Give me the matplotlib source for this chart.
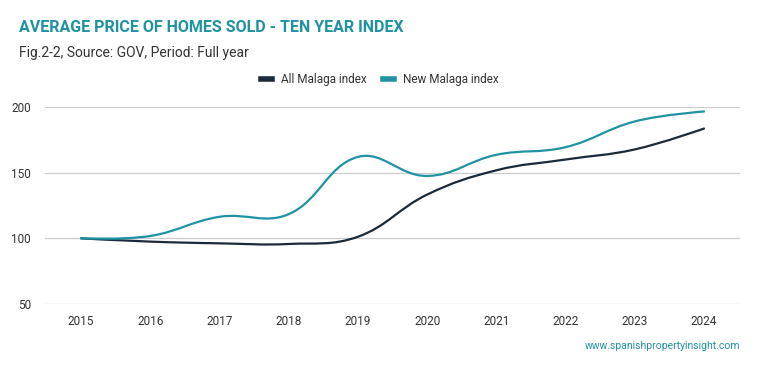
import matplotlib.pyplot as plt
import numpy as np
from matplotlib.path import Path
from matplotlib.patches import PathPatch
from matplotlib.lines import Line2D

plt.rcParams['font.family'] = ['Roboto', 'DejaVu Sans']

years = [2015, 2016, 2017, 2018, 2019, 2020, 2021, 2022, 2023, 2024]
all_malaga = [100, 97.5, 96.2, 95.7, 101.2, 133.3, 151.8, 160.0, 167.7, 183.6]
new_malaga = [100, 101.8, 116.4, 118.4, 162.0, 147.5, 163.6, 169.4, 189.0, 196.6]

DARK = '#1b2a3a'
TEAL = '#1f93a2'

# px per year / px per index point, used to weight the curve like on screen
SX, SY = 69.2, 1.31


def spline_path(xs, ys, tension=0.4):
    # cardinal spline with distance weighting (chart.js style)
    n = len(xs)
    px = [x * SX for x in xs]
    py = [y * SY for y in ys]
    ctrl = []
    for i in range(n):
        if i == 0 or i == n - 1:
            ctrl.append(((xs[i], ys[i]), (xs[i], ys[i])))
            continue
        d01 = np.hypot(px[i] - px[i - 1], py[i] - py[i - 1])
        d12 = np.hypot(px[i + 1] - px[i], py[i + 1] - py[i])
        fa = tension * d01 / (d01 + d12)
        fb = tension * d12 / (d01 + d12)
        dx = xs[i + 1] - xs[i - 1]
        dy = ys[i + 1] - ys[i - 1]
        ctrl.append(((xs[i] - fa * dx, ys[i] - fa * dy),
                     (xs[i] + fb * dx, ys[i] + fb * dy)))
    verts = [(xs[0], ys[0])]
    codes = [Path.MOVETO]
    for i in range(1, n):
        verts += [ctrl[i - 1][1], ctrl[i][0], (xs[i], ys[i])]
        codes += [Path.CURVE4] * 3
    return Path(verts, codes)


fig = plt.figure(figsize=(7.59, 3.71), dpi=100)
ax = fig.add_axes([45 / 759, 1 - 304 / 371, 695 / 759, 197 / 371])

for data, col in [(all_malaga, DARK), (new_malaga, TEAL)]:
    p = spline_path(years, data)
    ax.add_patch(PathPatch(p, facecolor='none', edgecolor=col, lw=1.6, capstyle='round'))

ax.set_xlim(2014.48, 2024.52)
ax.set_ylim(50, 200)
ax.set_yticks([50, 100, 150, 200])
ax.set_xticks(years)
ax.grid(axis='y', color='#cccccc', lw=0.9)
ax.set_axisbelow(True)
for s in ax.spines.values():
    s.set_visible(False)
ax.tick_params(length=0, labelsize=8.5, colors='#333333', pad=8)
ax.tick_params(axis='y', pad=10)

fig.text(19 / 759, 1 - 27 / 371, 'AVERAGE PRICE OF HOMES SOLD - TEN YEAR INDEX',
         fontsize=11.5, fontweight='bold', color=TEAL, va='center')
fig.text(19 / 759, 1 - 53 / 371, 'Fig.2-2, Source: GOV, Period: Full year',
         fontsize=10, color='#333333', va='center')

handles = [Line2D([], [], color=DARK, lw=4), Line2D([], [], color=TEAL, lw=4)]
fig.legend(handles, ['All Malaga index', 'New Malaga index'], loc='center',
           bbox_to_anchor=(380 / 759, 1 - 80 / 371), ncol=2, frameon=False,
           fontsize=8.5, handlelength=0.9, handletextpad=0.8, columnspacing=1.4,
           labelcolor='#333333')

fig.text(740 / 759, 1 - 346 / 371, 'www.spanishpropertyinsight.com', fontsize=7.5,
         color=TEAL, ha='right', va='center')

fig.savefig('out.png', dpi=100)
